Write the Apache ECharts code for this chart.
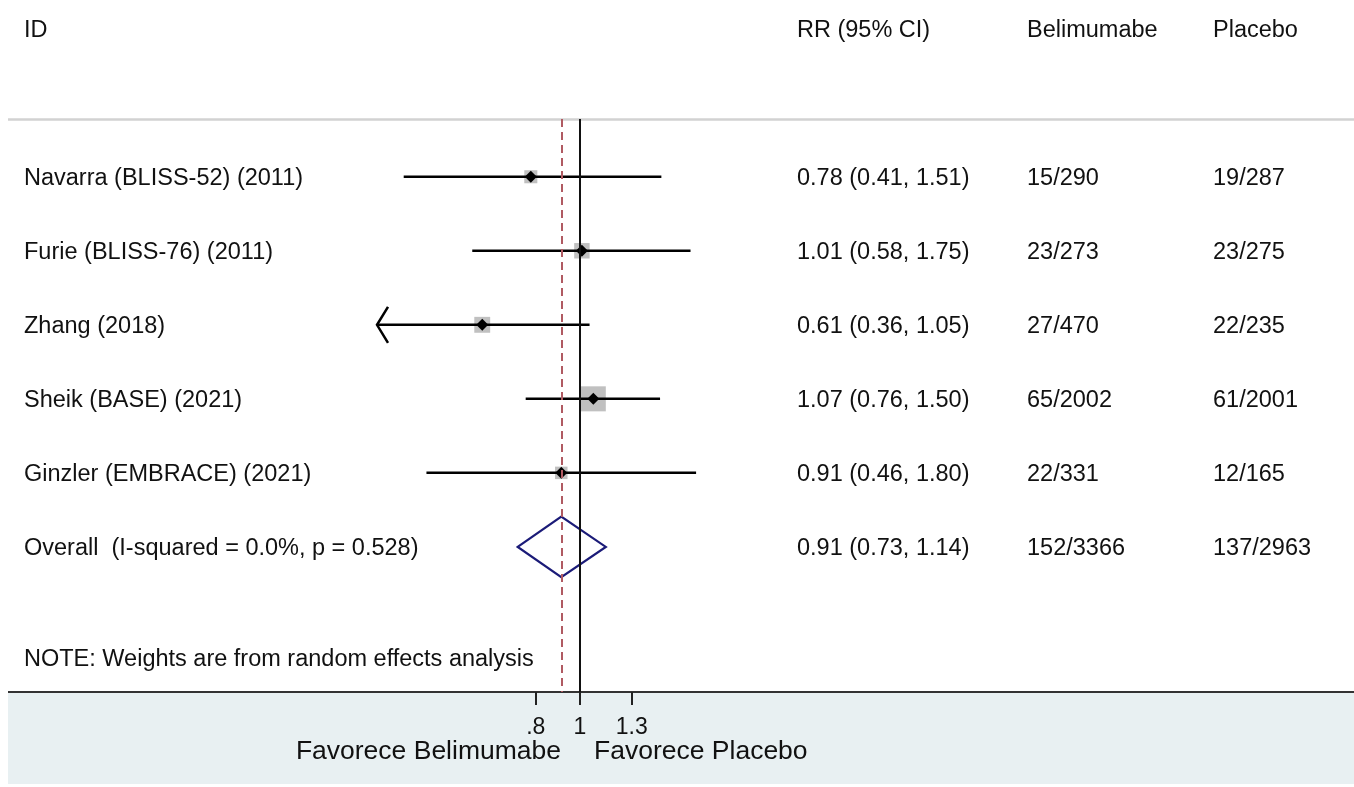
<!DOCTYPE html>
<html lang="pt">
<head>
<meta charset="UTF-8">
<title>Forest plot - Belimumabe vs Placebo</title>
<script src="https://cdn.jsdelivr.net/npm/echarts@6/dist/echarts.min.js"></script>
<style>
    html, body { margin: 0; padding: 0; background: #fff; }
    #chart { width: 1354px; height: 787px; }
</style>
</head>
<body>
<div id="chart"></div>
<script>
    // data
    var headers = ['ID', 'RR (95% CI)', 'Belimumabe', 'Placebo'];
    var studies = ['Navarra (BLISS-52) (2011)', 'Furie (BLISS-76) (2011)', 'Zhang (2018)',
        'Sheik (BASE) (2021)', 'Ginzler (EMBRACE) (2021)'];
    var rr = [0.78, 1.01, 0.61, 1.07, 0.91];
    var lower = [0.41, 0.58, 0.36, 0.76, 0.46];
    var upper = [1.51, 1.75, 1.05, 1.50, 1.80];
    var weights = [11.8, 16.5, 17.5, 43.4, 10.8];   // % (from square sizes)
    var eventsBeli = ['15/290', '23/273', '27/470', '65/2002', '22/331'];
    var eventsPlac = ['19/287', '23/275', '22/235', '61/2001', '12/165'];
    var overallLabel = 'Overall  (I-squared = 0.0%, p = 0.528)';
    var overallRR = 0.91;
    var overallCI = [0.73, 1.14];
    var overallBeli = '152/3366';
    var overallPlac = '137/2963';
    var note = 'NOTE: Weights are from random effects analysis';
    var xTicks = [0.8, 1, 1.3];
    var xMin = 0.36, xMax = 2.78;

    var font = '"Liberation Sans", Arial, sans-serif';
    var colX = [24, 797, 1027, 1213];

    function fmt(v) {
        return v.toFixed(2);
    }

    // rows for the text table: header at -2, studies 0..4, overall 5, note 6.5
    var tableRows = [];
    tableRows.push({value: [1, -2], cols: headers});
    for (var i = 0; i < studies.length; i++) {
        tableRows.push({value: [1, i], cols: [studies[i],
            fmt(rr[i]) + ' (' + fmt(lower[i]) + ', ' + fmt(upper[i]) + ')', eventsBeli[i], eventsPlac[i]]});
    }
    tableRows.push({value: [1, studies.length], cols: [overallLabel,
        fmt(overallRR) + ' (' + fmt(overallCI[0]) + ', ' + fmt(overallCI[1]) + ')', overallBeli, overallPlac]});
    tableRows.push({value: [1, studies.length + 1.5], cols: [note]});

    var studyData = [];
    for (var j = 0; j < studies.length; j++) {
        studyData.push([rr[j], j, lower[j], upper[j], weights[j]]);
    }

    var chart = echarts.init(document.getElementById('chart'));
    var option = {
        animation: false,
        backgroundColor: '#fff',
        textStyle: {fontFamily: font},
        grid: {left: 378, right: 572, top: 119, bottom: 95},
        xAxis: {
            type: 'log',
            logBase: 10,
            min: xMin,
            max: xMax,
            z: 5,
            axisLine: {show: false, onZero: false},
            splitLine: {show: false},
            axisTick: {
                show: true,
                customValues: xTicks,
                length: 13,
                lineStyle: {color: '#222', width: 2}
            },
            axisLabel: {
                customValues: xTicks,
                margin: 24,
                fontSize: 23,
                color: '#111',
                fontFamily: font,
                formatter: function (v) {
                    return String(+v.toFixed(2)).replace(/^0\./, '.');
                }
            }
        },
        yAxis: {
            type: 'value',
            inverse: true,
            min: -0.78,
            max: 6.96,
            show: false
        },
        graphic: [
            {type: 'rect', z: -10, shape: {x: 8, y: 693, width: 1346, height: 91},
                style: {fill: '#e8f0f2'}},
            {type: 'line', z: 4, shape: {x1: 8, y1: 692, x2: 1354, y2: 692},
                style: {stroke: '#333', lineWidth: 2}},
            {type: 'line', z: 4, shape: {x1: 8, y1: 119.5, x2: 1354, y2: 119.5},
                style: {stroke: '#d2d2d2', lineWidth: 2.5}},
            {type: 'text', z: 6, style: {text: 'Favorece Belimumabe', x: 561, y: 752,
                align: 'right', verticalAlign: 'middle', font: '26.5px ' + font, fill: '#111'}},
            {type: 'text', z: 6, style: {text: 'Favorece Placebo', x: 594, y: 752,
                align: 'left', verticalAlign: 'middle', font: '26.5px ' + font, fill: '#111'}}
        ],
        series: [
            {
                name: 'reference',
                type: 'line',
                data: [],
                markLine: {
                    silent: true,
                    symbol: 'none',
                    label: {show: false},
                    data: [
                        {xAxis: 1, lineStyle: {color: '#111', width: 2, type: 'solid'}},
                        {xAxis: overallRR, lineStyle: {color: '#b05a62', width: 2, type: [8, 5]}}
                    ]
                }
            },
            {
                name: 'studies',
                type: 'custom',
                clip: false,
                z: 3,
                data: studyData,
                renderItem: function (params, api) {
                    var y = api.coord([1, api.value(1)])[1];
                    var pt = api.coord([api.value(0), api.value(1)]);
                    var lo = api.value(2), hi = api.value(3);
                    var x0 = api.coord([Math.max(lo, xMin), 0])[0];
                    var x1 = api.coord([Math.min(hi, xMax), 0])[0];
                    var half = 3.8 * Math.sqrt(api.value(4)) / 2;
                    var children = [
                        {type: 'rect', shape: {x: pt[0] - half, y: y - half, width: half * 2, height: half * 2},
                            style: {fill: '#c0c0c0'}},
                        {type: 'line', shape: {x1: x0, y1: y, x2: x1, y2: y},
                            style: {stroke: '#000', lineWidth: 2.5}},
                        {type: 'polygon', shape: {points: [[pt[0] - 6, y], [pt[0], y - 6], [pt[0] + 6, y], [pt[0], y + 6]]},
                            style: {fill: '#000'}}
                    ];
                    if (lo <= xMin) {
                        children.push({type: 'polyline',
                            shape: {points: [[x0 + 10, y - 18], [x0 - 1, y], [x0 + 10, y + 18]]},
                            style: {stroke: '#000', lineWidth: 2.5, fill: null}});
                    }
                    return {type: 'group', children: children};
                }
            },
            {
                name: 'overall',
                type: 'custom',
                clip: false,
                z: 3,
                data: [[overallRR, studies.length, overallCI[0], overallCI[1]]],
                renderItem: function (params, api) {
                    var row = api.value(1);
                    var h = 0.41;
                    var pts = [
                        api.coord([api.value(2), row]),
                        api.coord([api.value(0), row - h]),
                        api.coord([api.value(3), row]),
                        api.coord([api.value(0), row + h])
                    ];
                    return {type: 'polygon', shape: {points: pts},
                        style: {fill: null, stroke: '#1b1b78', lineWidth: 2.2}};
                }
            },
            {
                name: 'table',
                type: 'custom',
                clip: false,
                z: 6,
                data: tableRows,
                renderItem: function (params, api) {
                    var y = api.coord([1, api.value(1)])[1] + 1.5;
                    var cols = tableRows[params.dataIndex].cols;
                    var children = [];
                    for (var k = 0; k < cols.length; k++) {
                        children.push({type: 'text', style: {text: cols[k], x: colX[k], y: y,
                            align: 'left', verticalAlign: 'middle', font: '23.5px ' + font, fill: '#111'}});
                    }
                    return {type: 'group', children: children};
                }
            }
        ]
    };
    chart.setOption(option);
</script>
</body>
</html>
